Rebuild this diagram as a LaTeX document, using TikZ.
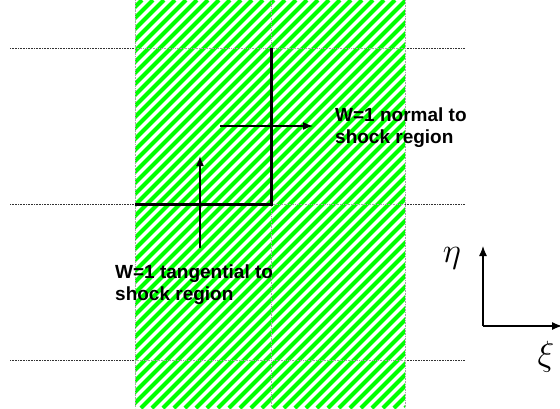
\RequirePackage{fix-cm}
\documentclass[tikz,border=0pt]{standalone}
\usepackage{fontspec}
\setsansfont{Liberation Sans}
\usetikzlibrary{arrows.meta}
\begin{document}
\begin{tikzpicture}[x=1pt,y=-1pt,
  grid/.style={densely dotted, gray!70, line width=0.6pt},
  sidegrid/.style={densely dotted, black!80, line width=0.6pt},
  thick line/.style={line width=3pt, black},
  vec/.style={line width=1.5pt, -{Latex[length=10pt,width=8pt]}},
  lbl/.style={font=\sffamily\bfseries\fontsize{19}{22}\selectfont, align=left, anchor=base west, inner sep=0pt},
  greek/.style={font=\fontsize{35}{35}\selectfont, inner sep=0pt}]
\useasboundingbox (0,0) rectangle (560,408);
% hatched region
\begin{scope}
  \clip (135,0) rectangle (405,408);
  \foreach \a in {-420,-409,...,420}{
    \draw[green, line width=4pt] (\a,408) -- (\a+408,0);
  }
\end{scope}
% grid lines
\coordinate (l1) at (10,48);  \coordinate (r1) at (465,48);
\coordinate (l2) at (10,204); \coordinate (r2) at (465,204);
\coordinate (l3) at (10,360); \coordinate (r3) at (465,360);
\draw[sidegrid] (l1) -- (135,48);  \draw[grid] (135,48) -- (405,48);  \draw[sidegrid] (405,48) -- (r1);
\draw[sidegrid] (l2) -- (135,204); \draw[grid] (135,204) -- (405,204); \draw[sidegrid] (405,204) -- (r2);
\draw[sidegrid] (l3) -- (135,360); \draw[grid] (135,360) -- (405,360); \draw[sidegrid] (405,360) -- (r3);
\draw[grid] (135,0) -- (135,408);
\draw[grid] (271,0) -- (271,408);
\draw[grid] (405,0) -- (405,408);
% thick corner
\coordinate (c1) at (271,48);
\coordinate (c2) at (271,204);
\coordinate (c3) at (135,204);
\draw[thick line] (c1) -- (c2) -- (c3);
% vectors
\coordinate (n0) at (220,126); \coordinate (n1) at (313,126);
\draw[vec] (n0) -- (n1);
\coordinate (t0) at (200,248); \coordinate (t1) at (200,156);
\draw[vec] (t0) -- (t1);
% labels
\node[lbl] (normal) at (335,143) {W=1 normal to\\shock region};
\node[lbl] (tang) at (115,300) {W=1 tangential to\\shock region};
% axes
\coordinate (o) at (483,326);
\coordinate (ey) at (483,246);
\coordinate (ex) at (562,326);
\draw[vec, line width=1.2pt] (o) -- (ey);
\draw[vec, line width=1.2pt] (o) -- (ex);
\node[greek] (eta) at (452,258) {$\eta$};
\node[greek] (xi) at (546,357) {$\xi$};
\end{tikzpicture}
\end{document}
